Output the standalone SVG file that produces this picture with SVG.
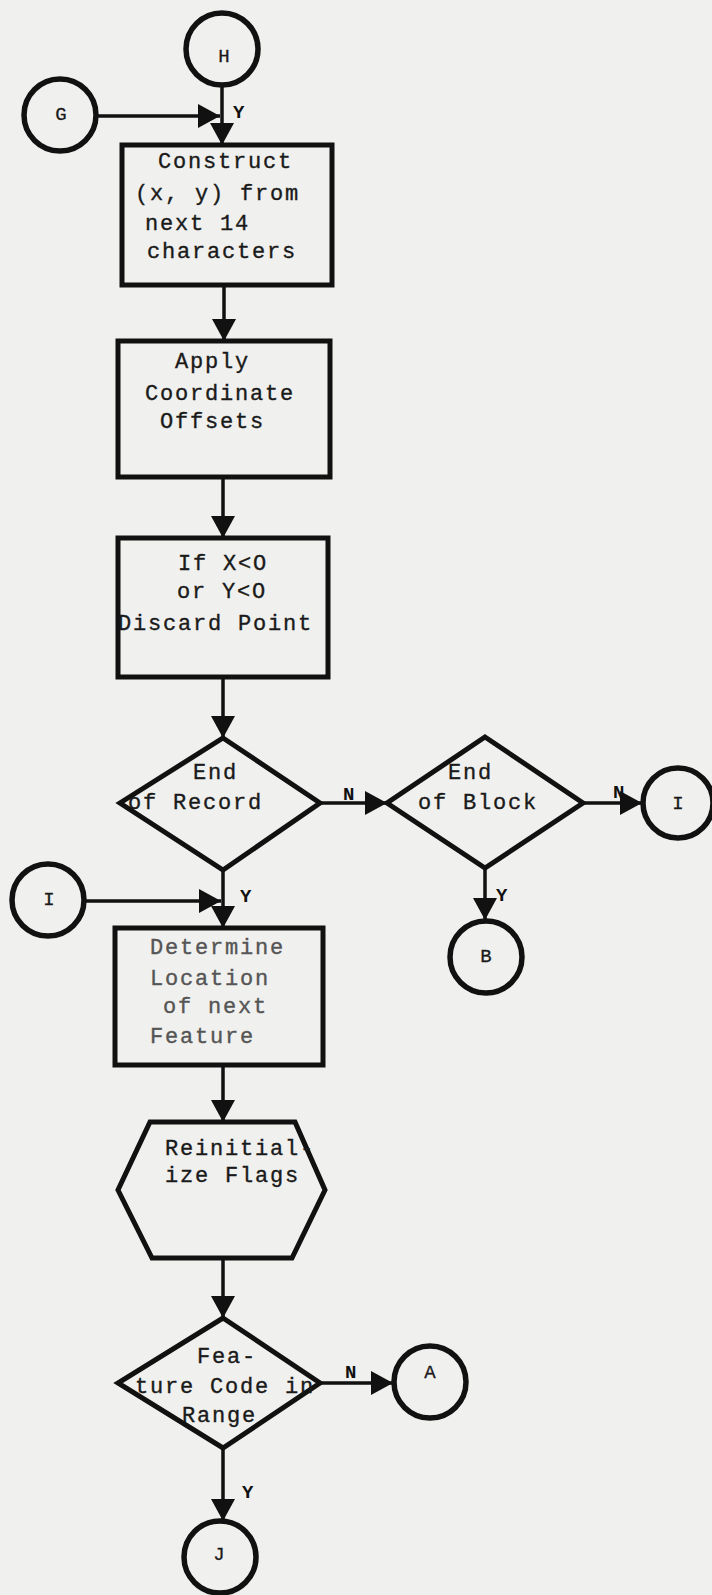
<svg xmlns="http://www.w3.org/2000/svg" width="712" height="1595" viewBox="0 0 712 1595">
<style>
.bg{fill:#f0f0ee}
.shape{fill:none;stroke:#111;stroke-width:5;stroke-linejoin:miter}
.circ{fill:none;stroke:#111;stroke-width:5.5}
.conn{fill:none;stroke:#111;stroke-width:3.5}
.t{font-family:"Liberation Mono","DejaVu Sans Mono",monospace;font-size:22px;letter-spacing:1.8px;fill:#1a1a1a;stroke:#1a1a1a;stroke-width:0.35}
.faded{fill:#555;stroke:#555}
.c{font-family:"Liberation Mono","DejaVu Sans Mono",monospace;font-size:19px;fill:#1a1a1a;stroke:#1a1a1a;stroke-width:0.3;text-anchor:middle}
.lbl{font-family:"Liberation Mono","DejaVu Sans Mono",monospace;font-size:19px;font-weight:bold;fill:#111}
</style>
<defs>
<marker id="arr" viewBox="0 0 22 24" markerWidth="22" markerHeight="24" markerUnits="userSpaceOnUse" refX="22" refY="12" orient="auto">
<path d="M0,0 L22,12 L0,24 z" fill="#111"/>
</marker>
</defs>
<rect class="bg" x="0" y="0" width="712" height="1595"/>

<g id="connectors">
<line class="conn" x1="222" y1="86" x2="222" y2="145" marker-end="url(#arr)"/>
<line class="conn" x1="97" y1="116" x2="220" y2="116" marker-end="url(#arr)"/>
<line class="conn" x1="224" y1="285" x2="224" y2="341" marker-end="url(#arr)"/>
<line class="conn" x1="223" y1="477" x2="223" y2="538" marker-end="url(#arr)"/>
<line class="conn" x1="223" y1="677" x2="223" y2="738" marker-end="url(#arr)"/>
<line class="conn" x1="320" y1="803" x2="387" y2="803" marker-end="url(#arr)"/>
<line class="conn" x1="583" y1="803" x2="642" y2="803" marker-end="url(#arr)"/>
<line class="conn" x1="485" y1="868" x2="485" y2="920" marker-end="url(#arr)"/>
<line class="conn" x1="223" y1="870" x2="223" y2="928" marker-end="url(#arr)"/>
<line class="conn" x1="84" y1="901" x2="221" y2="901" marker-end="url(#arr)"/>
<line class="conn" x1="223" y1="1065" x2="223" y2="1122" marker-end="url(#arr)"/>
<line class="conn" x1="223" y1="1258" x2="223" y2="1318" marker-end="url(#arr)"/>
<line class="conn" x1="320" y1="1383" x2="393" y2="1383" marker-end="url(#arr)"/>
<line class="conn" x1="223" y1="1448" x2="223" y2="1521" marker-end="url(#arr)"/>
<text class="lbl" x="233" y="118">Y</text>
<text class="lbl" x="343" y="800">N</text>
<text class="lbl" x="613" y="798">N</text>
<text class="lbl" x="496" y="901">Y</text>
<text class="lbl" x="240" y="902">Y</text>
<text class="lbl" x="345" y="1378">N</text>
<text class="lbl" x="242" y="1498">Y</text>
</g>

<g id="H">
<circle class="circ" cx="222" cy="49" r="36"/>
<text class="c" x="224" y="62">H</text>
</g>
<g id="G">
<circle class="circ" cx="60" cy="115" r="36"/>
<text class="c" x="61" y="120">G</text>
</g>

<g id="construct">
<rect class="shape" x="122" y="145" width="210" height="140"/>
<text class="t" x="158" y="168">Construct</text>
<text class="t" x="135" y="200">(x, y) from</text>
<text class="t" x="145" y="230">next 14</text>
<text class="t" x="147" y="258">characters</text>
</g>

<g id="apply">
<rect class="shape" x="118" y="341" width="212" height="136"/>
<text class="t" x="175" y="368">Apply</text>
<text class="t" x="145" y="400">Coordinate</text>
<text class="t" x="160" y="428">Offsets</text>
</g>

<g id="discard">
<rect class="shape" x="118" y="538" width="210" height="139"/>
<text class="t" x="178" y="570">If X&lt;O</text>
<text class="t" x="177" y="598">or Y&lt;O</text>
<text class="t" x="118" y="630">Discard Point</text>
</g>

<g id="endRecord">
<polygon class="shape" points="223,738 320,803 223,870 120,803"/>
<text class="t" x="193" y="779">End</text>
<text class="t" x="128" y="809">of Record</text>
</g>

<g id="endBlock">
<polygon class="shape" points="485,737 583,803 485,868 387,803"/>
<text class="t" x="448" y="779">End</text>
<text class="t" x="418" y="809">of Block</text>
</g>

<g id="I_right">
<circle class="circ" cx="678" cy="803" r="35"/>
<text class="c" x="678" y="809">I</text>
</g>

<g id="B">
<circle class="circ" cx="486" cy="957" r="36"/>
<text class="c" x="486" y="962">B</text>
</g>

<g id="I_left">
<circle class="circ" cx="48" cy="900" r="36"/>
<text class="c" x="49" y="905">I</text>
</g>

<g id="determine">
<rect class="shape" x="115" y="928" width="208" height="137"/>
<text class="t faded" x="150" y="954">Determine</text>
<text class="t faded" x="150" y="985">Location</text>
<text class="t faded" x="163" y="1013">of next</text>
<text class="t faded" x="150" y="1043">Feature</text>
</g>

<g id="reinit">
<polygon class="shape" points="150,1122 295,1122 325,1190 292,1258 152,1258 118,1190"/>
<text class="t" x="165" y="1155">Reinitial-</text>
<text class="t" x="165" y="1182">ize Flags</text>
</g>

<g id="featureCode">
<polygon class="shape" points="223,1318 320,1383 223,1448 118,1383"/>
<text class="t" x="197" y="1363">Fea-</text>
<text class="t" x="135" y="1393">ture Code in</text>
<text class="t" x="182" y="1422">Range</text>
</g>

<g id="A">
<circle class="circ" cx="430" cy="1382" r="36"/>
<text class="c" x="430" y="1378">A</text>
</g>

<g id="J">
<circle class="circ" cx="220" cy="1557" r="36"/>
<text class="c" x="219" y="1560">J</text>
</g>
</svg>
